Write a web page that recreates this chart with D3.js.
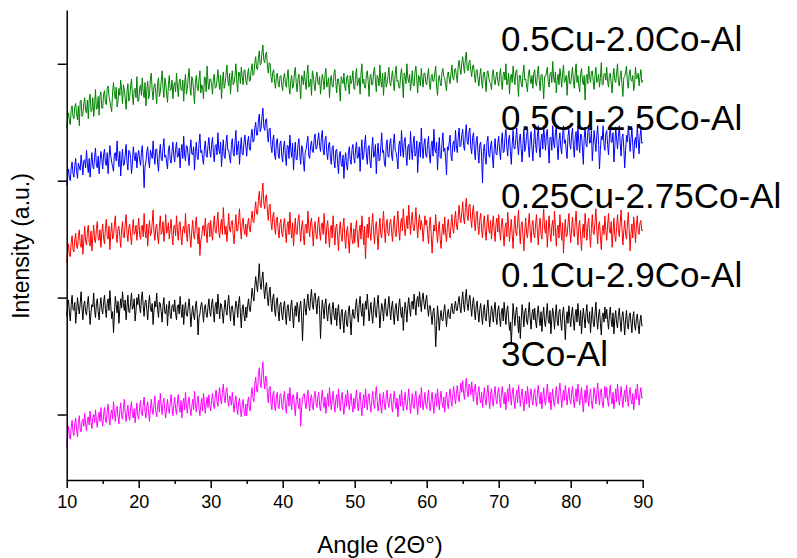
<!DOCTYPE html>
<html>
<head>
<meta charset="utf-8">
<script src="https://cdn.jsdelivr.net/npm/d3@7"></script>
<style>
  html, body { margin: 0; padding: 0; background: #fff; }
  svg { display: block; font-family: "Liberation Sans", Arial, sans-serif; }
</style>
</head>
<body>
<svg id="chart" width="797" height="558"></svg>
<script>
// XRD patterns, 2θ from 10° to 90° in 0.125° steps, stacked with vertical offsets.
const angleStart = 10, angleStep = 0.125;

const cu05co20 = [
  345, 354, 358, 351, 348, 361, 364, 355, 353, 363, 366, 357, 352, 364, 347, 368, 369, 355, 357, 366,
  371, 360, 358, 369, 353, 370, 374, 359, 360, 371, 355, 364, 378, 361, 362, 372, 356, 373, 376, 362,
  362, 374, 377, 367, 365, 379, 381, 372, 368, 363, 359, 376, 384, 375, 370, 380, 363, 368, 379, 373,
  386, 377, 366, 382, 378, 370, 361, 376, 383, 368, 371, 381, 387, 374, 365, 378, 379, 371, 389, 368,
  368, 379, 382, 373, 388, 376, 371, 384, 364, 378, 385, 370, 374, 387, 392, 377, 369, 381, 383, 375,
  366, 383, 388, 372, 376, 385, 394, 379, 371, 388, 384, 374, 367, 382, 390, 377, 378, 386, 370, 381,
  384, 376, 392, 381, 372, 385, 387, 378, 377, 386, 368, 383, 391, 374, 379, 388, 396, 380, 373, 389,
  386, 377, 366, 384, 390, 379, 377, 387, 394, 375, 382, 380, 370, 389, 388, 376, 398, 384, 378, 387,
  387, 382, 374, 388, 391, 379, 380, 386, 395, 384, 378, 390, 370, 385, 393, 379, 383, 391, 399, 386,
  381, 392, 374, 387, 394, 382, 384, 390, 400, 385, 376, 393, 392, 383, 397, 389, 382, 394, 395, 386,
  382, 391, 396, 385, 386, 395, 400, 390, 391, 401, 406, 396, 395, 405, 411, 399, 400, 410, 416, 403,
  401, 408, 410, 398, 392, 401, 400, 389, 384, 393, 395, 384, 379, 390, 392, 383, 380, 389, 390, 381,
  377, 388, 392, 383, 380, 389, 395, 380, 374, 386, 390, 379, 381, 392, 397, 384, 376, 387, 391, 381,
  370, 390, 388, 382, 394, 385, 378, 391, 399, 380, 383, 387, 373, 394, 390, 382, 377, 388, 393, 384,
  382, 389, 374, 383, 391, 386, 378, 391, 396, 380, 384, 388, 371, 386, 390, 381, 380, 392, 395, 384,
  375, 387, 387, 380, 368, 389, 386, 383, 392, 380, 377, 388, 390, 382, 374, 390, 383, 386, 394, 379,
  378, 390, 396, 381, 384, 388, 374, 392, 400, 383, 387, 380, 379, 391, 394, 385, 372, 389, 391, 382,
  382, 393, 397, 386, 376, 390, 388, 381, 399, 385, 380, 392, 373, 387, 393, 380, 383, 390, 397, 384,
  381, 389, 394, 384, 377, 391, 398, 385, 386, 380, 379, 390, 396, 386, 371, 392, 390, 383, 400, 388,
  384, 391, 377, 385, 394, 382, 381, 393, 398, 386, 375, 390, 388, 381, 396, 387, 380, 392, 392, 384,
  382, 390, 396, 383, 378, 389, 391, 385, 385, 392, 398, 381, 373, 386, 390, 384, 381, 393, 396, 389,
  388, 382, 377, 391, 393, 387, 383, 392, 399, 388, 386, 395, 396, 390, 384, 398, 403, 396, 391, 401,
  406, 398, 392, 405, 410, 396, 394, 401, 403, 394, 389, 398, 399, 391, 384, 394, 395, 387, 381, 390,
  396, 385, 379, 392, 393, 386, 376, 391, 394, 388, 384, 383, 378, 391, 395, 386, 382, 389, 393, 385,
  381, 390, 396, 384, 378, 391, 393, 386, 400, 382, 384, 392, 374, 388, 391, 384, 398, 389, 382, 393,
  395, 385, 372, 390, 390, 383, 380, 392, 399, 386, 387, 381, 376, 391, 395, 387, 383, 390, 379, 392,
  395, 384, 381, 391, 398, 386, 377, 390, 391, 383, 370, 389, 389, 392, 397, 385, 380, 391, 393, 384,
  402, 388, 384, 393, 375, 386, 391, 382, 396, 389, 380, 392, 399, 384, 386, 390, 373, 387, 394, 383,
  383, 390, 397, 385, 379, 392, 400, 384, 390, 381, 376, 391, 396, 386, 382, 390, 369, 387, 391, 383,
  398, 389, 384, 393, 394, 385, 378, 390, 397, 384, 386, 391, 380, 388, 401, 382, 382, 391, 392, 386,
  397, 385, 380, 391, 392, 383, 375, 389, 396, 386, 384, 392, 400, 384, 381, 390, 394, 382, 372, 388,
  389, 393, 398, 384, 379, 391, 395, 386, 385, 390, 377, 383, 397, 387, 388, 392, 381, 389, 395, 384,
  386
];

const cu05co25 = [
  296, 305, 310, 302, 300, 311, 316, 306, 303, 313, 319, 308, 302, 315, 312, 309, 322, 314, 305, 317,
  318, 311, 326, 314, 307, 319, 303, 315, 324, 312, 310, 320, 328, 313, 311, 321, 306, 316, 325, 319,
  310, 322, 327, 315, 313, 324, 306, 319, 330, 321, 316, 312, 308, 323, 324, 317, 334, 320, 312, 325,
  304, 318, 327, 313, 314, 322, 331, 316, 309, 326, 325, 319, 306, 314, 329, 321, 317, 324, 311, 321,
  326, 318, 313, 324, 330, 315, 294, 312, 316, 325, 329, 317, 311, 326, 323, 319, 334, 322, 314, 327,
  327, 316, 308, 323, 331, 319, 317, 328, 336, 320, 322, 316, 310, 326, 330, 318, 315, 325, 333, 321,
  316, 327, 333, 320, 321, 328, 311, 324, 331, 319, 338, 322, 317, 330, 329, 321, 313, 327, 335, 323,
  322, 329, 309, 325, 333, 320, 318, 331, 340, 324, 326, 319, 314, 328, 334, 322, 320, 330, 337, 325,
  320, 331, 337, 324, 316, 330, 331, 322, 341, 327, 323, 333, 312, 325, 335, 321, 319, 332, 339, 326,
  326, 320, 315, 331, 336, 324, 321, 333, 343, 322, 329, 334, 314, 327, 337, 323, 322, 333, 339, 330,
  321, 333, 338, 327, 326, 339, 344, 333, 334, 345, 350, 339, 339, 351, 357, 342, 345, 355, 362, 346,
  343, 352, 353, 340, 333, 344, 345, 330, 324, 335, 339, 322, 318, 333, 336, 323, 319, 332, 334, 321,
  316, 329, 334, 321, 313, 330, 330, 319, 339, 327, 320, 332, 309, 324, 333, 318, 318, 331, 336, 322,
  314, 330, 328, 317, 308, 324, 327, 333, 338, 321, 319, 330, 334, 325, 324, 336, 340, 327, 328, 335,
  341, 330, 325, 337, 343, 326, 322, 335, 338, 324, 318, 331, 333, 320, 314, 328, 330, 317, 311, 326,
  327, 315, 306, 323, 325, 314, 312, 322, 302, 317, 324, 313, 309, 323, 329, 318, 314, 327, 331, 320,
  315, 327, 333, 319, 320, 329, 308, 324, 335, 318, 321, 331, 339, 322, 314, 328, 330, 316, 311, 327,
  337, 320, 322, 331, 306, 323, 332, 317, 318, 329, 341, 324, 326, 315, 312, 330, 335, 321, 320, 332,
  336, 322, 317, 332, 340, 326, 324, 319, 310, 330, 334, 321, 343, 328, 320, 333, 337, 322, 313, 329,
  331, 318, 342, 327, 318, 332, 338, 321, 323, 334, 307, 326, 333, 320, 345, 329, 319, 331, 336, 322,
  320, 331, 338, 322, 315, 330, 334, 321, 344, 327, 324, 333, 309, 325, 337, 320, 319, 332, 341, 325,
  328, 320, 305, 329, 326, 333, 339, 321, 317, 331, 334, 325, 343, 330, 324, 337, 345, 329, 330, 339,
  344, 330, 326, 340, 348, 333, 331, 342, 345, 328, 323, 337, 341, 326, 318, 334, 338, 324, 315, 331,
  333, 321, 298, 325, 331, 320, 314, 333, 338, 322, 320, 330, 334, 321, 311, 327, 336, 323, 322, 332,
  338, 326, 318, 333, 341, 324, 325, 337, 344, 329, 321, 335, 339, 325, 314, 331, 343, 328, 327, 336,
  345, 330, 322, 336, 340, 327, 316, 332, 344, 325, 330, 338, 346, 329, 320, 335, 342, 327, 317, 333,
  345, 331, 324, 338, 347, 329, 320, 335, 340, 327, 347, 336, 326, 340, 344, 330, 315, 337, 337, 326,
  347, 333, 328, 341, 346, 330, 318, 334, 341, 328, 323, 339, 347, 332, 335, 326, 319, 338, 344, 331,
  327, 339, 345, 330, 320, 337, 342, 326, 347, 333, 324, 340, 339, 328, 314, 336, 346, 331, 329, 341,
  347, 332, 333, 343, 317, 330, 343, 334, 325, 339, 347, 331, 310, 327, 338, 335, 347, 330, 326, 340,
  343, 331, 322, 337, 347, 333, 333, 341, 316, 329, 346, 336, 327, 338, 347, 332, 321, 337, 340, 328,
  311, 326, 339, 333, 347, 338, 325, 336, 345, 330, 319, 334, 337, 328, 347, 335, 323, 338, 344, 332,
  333
];

const cu025co275 = [
  230, 240, 246, 236, 235, 247, 253, 241, 239, 250, 255, 244, 242, 253, 258, 246, 243, 254, 237, 249,
  261, 248, 245, 256, 262, 247, 244, 257, 240, 252, 262, 249, 247, 259, 265, 251, 249, 258, 243, 256,
  263, 251, 246, 259, 267, 253, 250, 261, 241, 255, 264, 250, 252, 262, 270, 254, 247, 259, 261, 252,
  243, 258, 265, 252, 251, 263, 271, 255, 248, 260, 263, 253, 245, 259, 267, 254, 256, 262, 249, 258,
  268, 254, 250, 261, 262, 252, 272, 257, 251, 263, 244, 258, 266, 253, 255, 264, 275, 256, 249, 260,
  263, 252, 246, 261, 270, 254, 256, 265, 248, 257, 271, 255, 258, 264, 250, 259, 267, 253, 245, 261,
  262, 253, 270, 257, 249, 263, 265, 252, 245, 259, 261, 255, 272, 256, 248, 262, 263, 251, 243, 257,
  266, 254, 250, 262, 269, 255, 246, 260, 236, 249, 252, 261, 262, 253, 268, 256, 247, 263, 264, 252,
  266, 255, 249, 262, 270, 257, 255, 264, 273, 256, 251, 262, 267, 254, 277, 263, 254, 261, 248, 259,
  272, 258, 256, 265, 266, 254, 246, 261, 271, 257, 257, 266, 276, 260, 250, 264, 268, 258, 254, 263,
  252, 262, 268, 259, 256, 267, 274, 265, 264, 275, 282, 272, 271, 283, 291, 279, 277, 289, 298, 281,
  276, 286, 288, 274, 266, 278, 280, 264, 258, 270, 273, 260, 254, 267, 269, 257, 251, 264, 267, 255,
  252, 263, 268, 256, 247, 262, 265, 254, 273, 259, 251, 264, 244, 257, 268, 255, 254, 266, 271, 258,
  248, 261, 266, 253, 245, 262, 263, 255, 274, 260, 252, 264, 268, 257, 244, 259, 265, 254, 250, 262,
  269, 256, 249, 263, 264, 254, 272, 258, 246, 261, 266, 253, 243, 259, 262, 251, 270, 257, 245, 260,
  263, 252, 240, 258, 265, 253, 248, 261, 268, 251, 242, 256, 261, 249, 238, 255, 264, 250, 246, 259,
  247, 259, 266, 252, 243, 257, 262, 250, 270, 258, 245, 261, 233, 254, 263, 251, 269, 256, 249, 262,
  272, 257, 246, 260, 265, 253, 241, 258, 268, 254, 251, 263, 274, 259, 247, 262, 267, 255, 253, 264,
  267, 256, 248, 262, 270, 255, 252, 264, 274, 258, 249, 263, 268, 257, 276, 264, 253, 260, 270, 259,
  279, 266, 254, 267, 273, 260, 257, 265, 277, 262, 251, 264, 271, 258, 266, 261, 248, 259, 270, 262,
  266, 255, 246, 262, 269, 254, 238, 252, 262, 257, 271, 256, 247, 259, 265, 250, 242, 256, 263, 254,
  269, 255, 248, 261, 267, 256, 251, 262, 271, 259, 255, 266, 274, 262, 258, 269, 279, 267, 264, 273,
  282, 268, 263, 277, 285, 270, 266, 279, 280, 267, 260, 274, 279, 264, 257, 270, 274, 261, 254, 267,
  272, 258, 251, 264, 270, 257, 249, 263, 271, 258, 255, 266, 250, 261, 270, 257, 248, 263, 268, 256,
  271, 257, 249, 263, 268, 255, 244, 260, 264, 252, 273, 261, 248, 258, 267, 254, 242, 259, 270, 256,
  253, 264, 275, 258, 246, 262, 265, 253, 240, 257, 268, 255, 251, 263, 272, 257, 247, 261, 266, 254,
  251, 263, 271, 256, 245, 262, 268, 254, 250, 264, 276, 259, 255, 266, 243, 257, 270, 255, 248, 261,
  266, 253, 274, 260, 244, 258, 262, 251, 271, 259, 249, 264, 238, 256, 267, 252, 253, 263, 272, 257,
  247, 259, 269, 255, 252, 264, 274, 258, 245, 261, 266, 253, 240, 257, 263, 251, 272, 260, 249, 262,
  268, 255, 243, 259, 271, 256, 254, 265, 276, 258, 246, 262, 265, 252, 241, 257, 262, 254, 270, 258,
  249, 262, 272, 257, 255, 265, 243, 256, 268, 253, 248, 261, 271, 258, 252, 264, 275, 259, 245, 257,
  266, 254, 250, 263, 273, 258, 240, 255, 263, 251, 269, 260, 247, 262, 270, 256, 254, 264, 266, 257,
  258
];

const cu01co29 = [
  184, 193, 198, 187, 180, 194, 202, 190, 189, 196, 178, 188, 200, 192, 186, 195, 205, 191, 181, 194,
  197, 188, 185, 194, 201, 190, 177, 187, 194, 192, 204, 189, 183, 195, 199, 188, 181, 193, 200, 190,
  186, 196, 202, 190, 183, 195, 199, 189, 206, 193, 182, 188, 170, 186, 201, 194, 187, 197, 178, 190,
  199, 191, 205, 195, 189, 198, 181, 192, 202, 188, 187, 196, 204, 190, 192, 199, 180, 189, 200, 194,
  203, 192, 187, 199, 205, 193, 184, 196, 198, 190, 181, 194, 202, 191, 188, 195, 177, 189, 197, 192,
  204, 190, 183, 196, 195, 188, 179, 193, 200, 187, 186, 194, 176, 190, 197, 185, 182, 193, 194, 188,
  198, 187, 181, 193, 194, 186, 201, 190, 183, 194, 177, 189, 196, 185, 184, 192, 199, 188, 175, 186,
  193, 185, 181, 192, 197, 187, 168, 183, 186, 193, 196, 189, 179, 191, 194, 186, 183, 192, 199, 188,
  184, 194, 199, 188, 179, 193, 196, 186, 203, 192, 182, 195, 194, 187, 178, 190, 198, 189, 185, 195,
  202, 190, 180, 192, 193, 186, 176, 189, 197, 193, 183, 195, 201, 187, 174, 190, 194, 185, 180, 192,
  183, 193, 199, 190, 188, 198, 208, 201, 197, 209, 218, 211, 205, 217, 229, 212, 207, 216, 222, 208,
  199, 209, 213, 200, 193, 204, 209, 195, 188, 200, 203, 190, 184, 197, 200, 188, 180, 194, 196, 186,
  181, 192, 197, 186, 177, 191, 194, 185, 180, 193, 198, 186, 174, 188, 193, 184, 196, 190, 179, 192,
  197, 185, 163, 184, 199, 191, 185, 196, 203, 192, 189, 200, 207, 194, 190, 201, 204, 195, 186, 198,
  201, 190, 165, 185, 198, 191, 182, 194, 199, 186, 180, 192, 195, 184, 177, 190, 196, 185, 181, 191,
  176, 188, 194, 183, 173, 187, 190, 179, 170, 186, 189, 177, 175, 188, 193, 181, 168, 184, 190, 183,
  182, 193, 199, 187, 179, 194, 201, 189, 184, 195, 176, 188, 197, 190, 203, 192, 180, 189, 196, 186,
  178, 191, 200, 187, 183, 194, 202, 189, 174, 186, 195, 191, 180, 193, 199, 187, 184, 192, 201, 190,
  181, 192, 197, 185, 177, 191, 195, 186, 180, 193, 199, 188, 183, 192, 172, 186, 196, 190, 179, 192,
  200, 191, 184, 196, 197, 190, 203, 194, 185, 198, 201, 192, 205, 196, 188, 199, 204, 195, 190, 198,
  202, 191, 184, 193, 193, 185, 177, 188, 191, 180, 158, 176, 193, 184, 172, 183, 189, 181, 180, 188,
  194, 185, 175, 186, 190, 183, 182, 191, 195, 187, 186, 193, 197, 189, 189, 196, 201, 192, 187, 197,
  205, 194, 188, 200, 207, 195, 189, 198, 202, 192, 184, 195, 200, 189, 181, 193, 197, 187, 179, 190,
  195, 185, 177, 189, 194, 183, 180, 191, 198, 186, 175, 184, 193, 188, 179, 190, 196, 183, 177, 189,
  193, 183, 175, 188, 191, 180, 196, 186, 177, 189, 193, 182, 172, 179, 160, 178, 195, 185, 176, 187,
  192, 181, 170, 184, 165, 180, 194, 186, 175, 188, 191, 180, 177, 187, 196, 182, 173, 186, 190, 181,
  191, 180, 174, 187, 193, 182, 176, 188, 171, 184, 192, 179, 175, 186, 195, 181, 178, 189, 169, 182,
  191, 184, 173, 185, 194, 180, 176, 188, 190, 179, 172, 186, 192, 181, 164, 180, 188, 178, 193, 183,
  175, 186, 192, 180, 172, 185, 190, 179, 195, 184, 176, 189, 169, 181, 191, 183, 174, 187, 194, 180,
  178, 188, 170, 182, 192, 179, 175, 186, 196, 181, 173, 185, 190, 178, 168, 184, 187, 179, 192, 182,
  190, 181, 173, 185, 192, 180, 175, 187, 169, 182, 189, 178, 174, 185, 191, 180, 171, 184, 188, 179,
  168, 181, 189, 177, 173, 184, 187, 178, 170, 183, 188, 176, 172, 182, 186, 177, 169, 180, 185, 176,
  176
];

const co3 = [
  72, 84, 90, 81, 79, 89, 95, 85, 82, 92, 97, 87, 81, 93, 99, 88, 85, 94, 96, 90,
  101, 92, 86, 96, 98, 91, 103, 94, 88, 97, 100, 93, 104, 95, 89, 98, 102, 94, 106, 96,
  90, 100, 106, 95, 93, 103, 109, 97, 91, 101, 104, 96, 111, 102, 94, 104, 107, 98, 92, 103,
  110, 99, 96, 105, 113, 101, 94, 103, 108, 98, 95, 106, 111, 100, 97, 105, 93, 102, 110, 99,
  96, 106, 112, 101, 99, 108, 115, 103, 97, 107, 111, 102, 94, 105, 113, 104, 100, 109, 116, 103,
  98, 107, 112, 102, 118, 108, 100, 110, 114, 104, 97, 106, 113, 105, 101, 110, 117, 106, 99, 108,
  115, 105, 100, 111, 117, 106, 102, 112, 97, 109, 114, 104, 119, 108, 101, 110, 115, 105, 99, 107,
  113, 104, 120, 109, 102, 111, 116, 105, 99, 108, 114, 103, 118, 110, 101, 109, 115, 106, 117, 108,
  103, 112, 118, 109, 105, 115, 121, 111, 107, 117, 123, 113, 109, 119, 126, 115, 110, 120, 123, 112,
  107, 116, 115, 108, 119, 110, 102, 111, 116, 106, 100, 110, 114, 104, 98, 108, 113, 103, 99, 109,
  99, 110, 115, 105, 103, 117, 123, 114, 111, 126, 132, 121, 119, 134, 140, 127, 123, 137, 145, 129,
  122, 133, 131, 118, 110, 122, 124, 109, 104, 117, 120, 107, 103, 116, 119, 106, 105, 117, 118, 107,
  104, 115, 120, 108, 101, 113, 118, 107, 123, 111, 104, 116, 117, 108, 99, 112, 119, 109, 105, 114,
  90, 106, 113, 117, 118, 109, 105, 115, 121, 110, 103, 114, 117, 107, 104, 116, 120, 110, 106, 115,
  119, 108, 103, 114, 121, 110, 106, 115, 101, 110, 118, 107, 123, 113, 104, 112, 120, 109, 102, 113,
  117, 106, 122, 112, 103, 114, 119, 108, 100, 111, 117, 107, 121, 113, 104, 112, 118, 108, 102, 114,
  105, 114, 121, 109, 103, 113, 119, 108, 99, 111, 117, 106, 122, 113, 104, 115, 118, 108, 102, 112,
  120, 110, 105, 116, 124, 112, 103, 109, 118, 107, 101, 113, 119, 108, 104, 115, 121, 110, 106, 114,
  118, 108, 102, 113, 120, 110, 105, 114, 98, 109, 117, 107, 121, 112, 103, 111, 119, 108, 104, 113,
  122, 111, 101, 110, 118, 107, 105, 115, 120, 109, 100, 112, 117, 106, 123, 113, 104, 111, 119, 108,
  105, 114, 121, 108, 103, 113, 119, 109, 101, 112, 118, 107, 122, 113, 104, 114, 120, 110, 106, 115,
  102, 113, 119, 110, 105, 116, 122, 112, 107, 117, 124, 115, 109, 118, 125, 116, 111, 120, 127, 119,
  129, 118, 113, 124, 131, 120, 115, 126, 124, 117, 128, 119, 111, 122, 126, 116, 108, 119, 124, 114,
  110, 119, 106, 115, 123, 113, 108, 118, 125, 114, 105, 117, 122, 112, 107, 118, 124, 113, 109, 119,
  123, 113, 106, 118, 124, 114, 109, 119, 104, 115, 122, 111, 126, 117, 108, 118, 123, 112, 105, 116,
  121, 110, 125, 117, 107, 116, 122, 112, 103, 114, 120, 109, 124, 116, 106, 117, 122, 112, 108, 118,
  122, 112, 107, 118, 125, 115, 109, 119, 105, 114, 123, 112, 108, 117, 126, 116, 110, 119, 104, 113,
  122, 111, 107, 116, 124, 114, 109, 119, 127, 117, 106, 115, 121, 112, 125, 118, 108, 117, 123, 113,
  109, 118, 124, 113, 106, 115, 122, 111, 126, 117, 108, 116, 123, 112, 102, 113, 121, 110, 125, 116,
  107, 117, 122, 112, 105, 114, 123, 117, 109, 118, 127, 115, 108, 119, 122, 111, 106, 116, 124, 114,
  123, 112, 107, 118, 125, 114, 109, 119, 105, 113, 122, 111, 126, 117, 108, 115, 124, 114, 106, 116,
  121, 111, 125, 116, 107, 117, 123, 113, 109, 118, 104, 112, 122, 113, 126, 117, 108, 118, 123, 114,
  115
];

const seriesNames = ["0.5Cu-2.0Co-Al", "0.5Cu-2.5Co-Al", "0.25Cu-2.75Co-Al", "0.1Cu-2.9Co-Al", "3Co-Al"];
const seriesValues = [cu05co20, cu05co25, cu025co275, cu01co29, co3];
const seriesColors = ["#008000", "#0000ff", "#ff0000", "#000000", "#ff00ff"];

const xTicks = [10, 20, 30, 40, 50, 60, 70, 80, 90];
const xMinorTicks = [15, 25, 35, 45, 55, 65, 75, 85];
const yTicks = [100, 200, 300, 400];

const width = 797, height = 558;
const margin = { top: 10, right: 154.3, bottom: 78, left: 66.7 };
const svg = d3.select("#chart");

const x = d3.scaleLinear().domain([10, 90]).range([margin.left, width - margin.right]);
const y = d3.scaleLinear().domain([44, 446]).range([height - margin.bottom, margin.top]);

// Curves
const line = d3.line()
  .x((d, i) => x(angleStart + i * angleStep))
  .y(d => y(d));

svg.append("g")
  .selectAll("path")
  .data(seriesValues)
  .join("path")
  .attr("d", d => line(d))
  .attr("fill", "none")
  .attr("stroke", (d, i) => seriesColors[i])
  .attr("stroke-width", 1)
  .attr("stroke-linejoin", "round");

// Bottom axis with major and minor ticks
const xAxis = svg.append("g")
  .attr("transform", `translate(0,${height - margin.bottom})`)
  .call(d3.axisBottom(x).tickValues(xTicks).tickFormat(d3.format("d")).tickSize(8).tickSizeOuter(0));
xAxis.select(".domain").attr("stroke-width", 1.5);
xAxis.selectAll(".tick line").attr("stroke-width", 1.5);
xAxis.selectAll(".tick text")
  .attr("font-size", 18)
  .attr("font-family", "Liberation Sans, Arial, sans-serif")
  .attr("fill", "#000")
  .attr("dy", null)
  .attr("y", 28);

svg.append("g")
  .attr("transform", `translate(0,${height - margin.bottom})`)
  .call(d3.axisBottom(x).tickValues(xMinorTicks).tickFormat("").tickSize(4).tickSizeOuter(0))
  .call(g => g.select(".domain").remove())
  .selectAll(".tick line").attr("stroke-width", 1.5);

// Left axis, unlabelled ticks
const yAxis = svg.append("g")
  .attr("transform", `translate(${margin.left},0)`)
  .call(d3.axisLeft(y).tickValues(yTicks).tickFormat("").tickSize(9).tickSizeOuter(0));
yAxis.select(".domain").attr("stroke-width", 1.5);
yAxis.selectAll(".tick line").attr("stroke-width", 1.5);

// Axis titles
svg.append("text")
  .attr("x", 380)
  .attr("y", 553)
  .attr("text-anchor", "middle")
  .attr("font-size", 24)
  .attr("fill", "#000")
  .text("Angle (2Θ°)");

svg.append("text")
  .attr("transform", "translate(29,246) rotate(-90)")
  .attr("text-anchor", "middle")
  .attr("font-size", 23)
  .attr("fill", "#000")
  .text("Intensity (a.u.)");

// Sample labels
const labelBaselines = [51, 130, 208, 287, 366];
svg.append("g")
  .selectAll("text")
  .data(seriesNames)
  .join("text")
  .attr("x", 501)
  .attr("y", (d, i) => labelBaselines[i])
  .attr("font-size", 35)
  .attr("fill", "#000")
  .text(d => d);
</script>
</body>
</html>
